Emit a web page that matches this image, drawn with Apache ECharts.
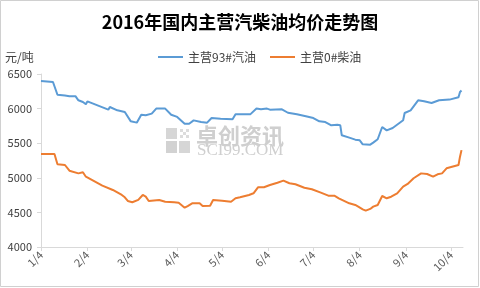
<!DOCTYPE html>
<html>
<head>
<meta charset="utf-8">
<script src="https://cdn.jsdelivr.net/npm/echarts@6/dist/echarts.min.js"></script>
<style>
html,body{margin:0;padding:0;background:#fff;}
#c{width:480px;height:288px;}
</style>
</head>
<body>
<div id="c"></div>
<script>
var titleText = '2016年国内主营汽柴油均价走势图';
var unitText = '元/吨';
var seriesNames = ['主营93#汽油', '主营0#柴油'];
var yTicks = [4000, 4500, 5000, 5500, 6000, 6500];
var startDate = '2016-01-04';
var endDate = '2016-10-12';
var tickDates = ['2016-01-04','2016-02-04','2016-03-04','2016-04-04','2016-05-04','2016-06-04','2016-07-04','2016-08-04','2016-09-04','2016-10-04'];

var gasDates = ['2016-01-04','2016-01-12','2016-01-13','2016-01-15','2016-01-20','2016-01-23','2016-01-27','2016-01-29','2016-02-01','2016-02-03','2016-02-04','2016-02-18','2016-02-19','2016-02-24','2016-02-29','2016-03-01','2016-03-04','2016-03-05','2016-03-08','2016-03-11','2016-03-14','2016-03-18','2016-03-21','2016-03-27','2016-03-31','2016-04-04','2016-04-09','2016-04-12','2016-04-15','2016-04-20','2016-04-24','2016-04-27','2016-05-03','2016-05-11','2016-05-13','2016-05-23','2016-05-27','2016-05-30','2016-06-03','2016-06-05','2016-06-13','2016-06-17','2016-06-23','2016-06-29','2016-07-04','2016-07-08','2016-07-12','2016-07-16','2016-07-20','2016-07-22','2016-07-23','2016-07-28','2016-08-01','2016-08-04','2016-08-06','2016-08-11','2016-08-13','2016-08-16','2016-08-19','2016-08-22','2016-08-26','2016-09-02','2016-09-03','2016-09-07','2016-09-12','2016-09-16','2016-09-21','2016-09-26','2016-10-03','2016-10-09','2016-10-10','2016-10-11'];
var gasValues = [6400,6385,6380,6200,6190,6180,6180,6120,6095,6062,6105,5985,6023,5975,5950,5940,5816,5792,5797,5912,5905,5927,6000,6000,5912,5880,5782,5782,5830,5806,5797,5864,5855,5845,5918,5920,6000,5990,6000,5985,5990,5940,5917,5889,5864,5816,5806,5758,5765,5758,5614,5580,5551,5542,5484,5479,5508,5557,5734,5686,5720,5831,5936,5975,6120,6105,6081,6120,6130,6163,6240,6262];

var dieselDates = ['2016-01-04','2016-01-13','2016-01-15','2016-01-20','2016-01-23','2016-01-29','2016-02-01','2016-02-03','2016-02-14','2016-02-21','2016-02-27','2016-02-29','2016-03-02','2016-03-05','2016-03-09','2016-03-12','2016-03-14','2016-03-16','2016-03-23','2016-03-27','2016-04-02','2016-04-05','2016-04-09','2016-04-11','2016-04-14','2016-04-19','2016-04-21','2016-04-26','2016-04-28','2016-05-04','2016-05-10','2016-05-13','2016-05-16','2016-05-22','2016-05-25','2016-05-28','2016-06-01','2016-06-05','2016-06-10','2016-06-14','2016-06-18','2016-06-22','2016-06-28','2016-07-03','2016-07-09','2016-07-14','2016-07-18','2016-07-21','2016-07-28','2016-08-01','2016-08-03','2016-08-06','2016-08-08','2016-08-11','2016-08-13','2016-08-16','2016-08-19','2016-08-22','2016-08-25','2016-08-29','2016-09-02','2016-09-05','2016-09-09','2016-09-14','2016-09-18','2016-09-22','2016-09-25','2016-09-28','2016-10-01','2016-10-09','2016-10-10','2016-10-11'];
var dieselValues = [5345,5345,5195,5185,5103,5064,5080,5016,4886,4824,4752,4718,4665,4646,4680,4752,4727,4665,4680,4655,4646,4640,4568,4592,4631,4631,4592,4597,4680,4670,4655,4704,4718,4752,4776,4863,4863,4896,4929,4959,4921,4906,4857,4834,4785,4742,4742,4704,4631,4607,4583,4545,4525,4550,4583,4607,4737,4704,4727,4776,4872,4911,4993,5064,5055,5016,5051,5064,5137,5185,5305,5400];

function toUTC(s){ var p = s.split('-'); return Date.UTC(+p[0], +p[1]-1, +p[2]); }
var t0 = toUTC(startDate);
function dayIdx(s){ return Math.round((toUTC(s) - t0) / 86400000); }
function pairs(d, v){ return d.map(function(s, i){ return [dayIdx(s), v[i]]; }); }
var tickIdx = tickDates.map(dayIdx);
function fmtDay(v){ var d = new Date(t0 + v * 86400000); return (d.getUTCMonth()+1) + '/' + d.getUTCDate(); }

var chart = echarts.init(document.getElementById('c'), null, {renderer:'canvas'});
var font = '"Noto Sans CJK SC", "Noto Sans", sans-serif';
chart.setOption({
  animation: false,
  backgroundColor: '#ffffff',
  textStyle: { fontFamily: font },
  title: {
    text: titleText, left: 'center', top: 8,
    textStyle: { fontSize: 18, fontWeight: 'bold', color: '#000000', fontFamily: font }
  },
  legend: {
    data: seriesNames, top: 46, left: 153, itemWidth: 25, itemHeight: 2, itemGap: 14,
    icon: 'rect',
    textStyle: { fontSize: 12, color: '#404040', fontFamily: font }
  },
  grid: { left: 41, right: 17, top: 74, bottom: 41, containLabel: false },
  xAxis: {
    type: 'value',
    min: 0, max: dayIdx(endDate),
    axisLine: { show: true, lineStyle: { color: '#d9d9d9', width: 1 } },
    axisTick: { show: true, customValues: tickIdx, length: 4, lineStyle: { color: '#d9d9d9' } },
    axisLabel: {
      customValues: tickIdx, rotate: 45, fontSize: 11, color: '#595959', margin: 6,
      formatter: fmtDay
    },
    splitLine: { show: false }
  },
  yAxis: {
    type: 'value', min: yTicks[0], max: yTicks[yTicks.length-1], interval: 500,
    axisLine: { show: true, lineStyle: { color: '#d9d9d9' } },
    axisTick: { show: true, length: 4, lineStyle: { color: '#d9d9d9' } },
    axisLabel: { fontSize: 11, color: '#404040', margin: 9, formatter: function(v){ return String(v); } },
    splitLine: { show: false }
  },
  graphic: [
    { type: 'rect', shape: { x: 0.5, y: 0.5, width: 478, height: 286 }, style: { fill: 'none', stroke: '#d0d0d0', lineWidth: 1 }, z: 100, silent: true },
    { type: 'text', left: 5, top: 51, style: { text: unitText, fontSize: 12, fill: '#404040', fontFamily: font } },
    { type: 'rect', shape: { x: 166, y: 128, width: 11, height: 11 }, style: { fill: '#d6d6d6' }, z: 1 },
    { type: 'rect', shape: { x: 166, y: 141, width: 11, height: 12 }, style: { fill: '#d2d2d2' }, z: 1 },
    { type: 'rect', shape: { x: 179, y: 141, width: 11, height: 12 }, style: { fill: '#d6d6d6' }, z: 1 },
    { type: 'rect', shape: { x: 180, y: 129, width: 3, height: 3 }, style: { fill: '#dcdcdc' }, z: 1 },
    { type: 'rect', shape: { x: 186, y: 129, width: 3, height: 3 }, style: { fill: '#dcdcdc' }, z: 1 },
    { type: 'rect', shape: { x: 183, y: 132, width: 3, height: 3 }, style: { fill: '#dcdcdc' }, z: 1 },
    { type: 'rect', shape: { x: 180, y: 135, width: 3, height: 3 }, style: { fill: '#dcdcdc' }, z: 1 },
    { type: 'rect', shape: { x: 186, y: 135, width: 3, height: 3 }, style: { fill: '#dcdcdc' }, z: 1 },
    { type: 'text', left: 196, top: 125, style: { text: '卓创资讯', fontSize: 22, fill: '#cfcfcf', fontFamily: font, fontWeight: 'bold' }, z: 1 },
    { type: 'text', left: 197, top: 142, style: { text: 'SCI99.COM', fontSize: 17, fill: '#cfcfcf', fontFamily: '"Liberation Serif", serif' }, z: 1 }
  ],
  series: [
    { name: seriesNames[0], type: 'line', data: pairs(gasDates, gasValues), showSymbol: false, symbol: 'none',
      lineStyle: { color: '#5b9bd5', width: 2 }, itemStyle: { color: '#5b9bd5' }, z: 3 },
    { name: seriesNames[1], type: 'line', data: pairs(dieselDates, dieselValues), showSymbol: false, symbol: 'none',
      lineStyle: { color: '#ed7d31', width: 2 }, itemStyle: { color: '#ed7d31' }, z: 3 }
  ]
});
</script>
</body>
</html>
